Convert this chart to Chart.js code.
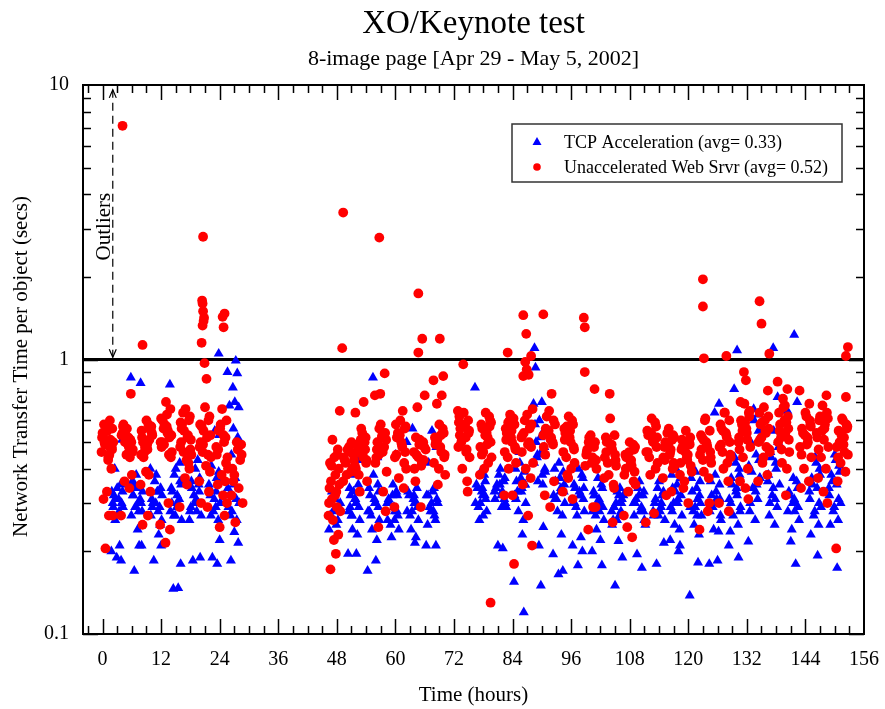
<!DOCTYPE html>
<html><head><meta charset="utf-8">
<script src="https://cdn.jsdelivr.net/npm/chart.js@4.4.0/dist/chart.umd.min.js"></script>
<style>html,body{margin:0;padding:0;background:#fff;}canvas{display:block;}</style>
</head><body>
<canvas id="c" width="885" height="709"></canvas>
<script>
// ---------- data ----------
const xTickLabels = [0,12,24,36,48,60,72,84,96,108,120,132,144,156];
const yTickLabels = [0.1,1,10];
const seriesNames = ['TCP Acceleration (avg= 0.33)','Unaccelerated Web Srvr (avg= 0.52)'];
// time offsets (hours) of the samples inside one measurement burst
const burstOffsets = [0,0.9,-0.7,0.4,-1.1,1.2,-0.3,0.7,-0.9,0.2,1.0,-0.5,0.5,-1.2,0.8,-0.1,0.3,-0.8,1.1,-0.4,0.6,-1.0,0.15,-0.6,0.95,-0.25];

const tcpBurstTimes = [3,7,11,15,19,23,26.8, 47.5,51.5,55.5,59.5,63.5,67.5,77.5,81.5,85.5,89.5,93.5,97.5,101.5,105.5,110,114,117.5,121.5,125.5,129.5,133.5,137.5,141.5,146,150];
const tcpBurstValues = [
 [0.34,0.3,0.32,0.28,0.33,0.29,0.31,0.35,0.3,0.27,0.51,0.4,0.21,0.2,0.185,0.19,0.31,0.29,0.33,0.26],
 [0.34,0.3,0.32,0.28,0.27,0.33,0.29,0.31,0.36,0.24,0.21,0.17,0.21,0.86,0.82,0.38,0.3,0.32,0.28,0.35],
 [0.38,0.34,0.3,0.28,0.27,0.32,0.36,0.29,0.31,0.33,0.21,0.185,0.23,0.4,0.25,0.3,0.33,0.29,0.26],
 [0.4,0.36,0.33,0.3,0.28,0.26,0.38,0.31,0.34,0.29,0.18,0.146,0.147,0.81,0.42,0.27,0.32,0.3,0.35,0.27],
 [0.4,0.37,0.34,0.3,0.28,0.27,0.32,0.35,0.29,0.31,0.19,0.185,0.43,0.26,0.33,0.3,0.28,0.36],
 [0.55,0.53,0.41,0.37,0.34,0.3,0.28,0.26,0.32,0.29,0.22,0.19,0.18,0.35,0.39,0.31,0.33,0.27,0.3],
 [0.56,0.52,0.4,0.37,0.34,0.3,0.28,0.26,0.32,0.235,0.215,0.185,0.99,0.9,0.89,0.79,0.7,0.68,0.67,0.45,0.31,0.29,0.35,0.27],
 [0.32,0.29,0.27,0.25,0.24,0.3,0.28,0.26,0.27,0.31,0.29,0.33],
 [0.38,0.35,0.32,0.3,0.28,0.26,0.24,0.23,0.34,0.31,0.29,0.27,0.196,0.196,0.43,0.33,0.31,0.29,0.33,0.27],
 [0.38,0.35,0.32,0.3,0.28,0.26,0.24,0.22,0.34,0.31,0.29,0.27,0.185,0.17,0.44,0.86,0.3,0.28,0.33],
 [0.35,0.32,0.3,0.28,0.26,0.24,0.225,0.33,0.31,0.29,0.27,0.25,0.45,0.3,0.28,0.32,0.26],
 [0.56,0.34,0.32,0.3,0.28,0.26,0.24,0.225,0.33,0.31,0.29,0.27,0.215,0.5,0.3,0.28,0.32],
 [0.55,0.48,0.42,0.34,0.32,0.3,0.28,0.26,0.25,0.33,0.31,0.29,0.27,0.21,0.21,0.3,0.28,0.32],
 [0.39,0.36,0.34,0.32,0.3,0.28,0.26,0.38,0.35,0.33,0.31,0.29,0.27,0.79,0.32,0.3,0.34],
 [0.4,0.37,0.35,0.33,0.31,0.29,0.38,0.36,0.34,0.32,0.3,0.21,0.205,0.33,0.31,0.35,0.29],
 [0.42,0.39,0.36,0.34,0.32,0.3,0.28,0.26,0.4,0.37,0.35,0.33,0.23,0.155,0.12,0.46,0.33,0.31,0.35],
 [0.6,0.55,0.5,0.46,0.42,0.39,0.36,0.35,0.58,0.52,0.48,0.44,0.7,0.69,0.245,0.21,0.15,0.935,0.4,0.45,0.38],
 [0.42,0.39,0.36,0.34,0.32,0.3,0.28,0.27,0.4,0.37,0.33,0.31,0.23,0.195,0.17,0.165,0.33,0.31,0.35],
 [0.4,0.37,0.34,0.32,0.3,0.28,0.27,0.38,0.35,0.33,0.31,0.29,0.225,0.21,0.2,0.178,0.32,0.3,0.34],
 [0.37,0.34,0.32,0.3,0.28,0.26,0.24,0.35,0.33,0.31,0.29,0.27,0.22,0.2,0.178,0.3,0.28,0.32],
 [0.33,0.31,0.29,0.27,0.25,0.32,0.3,0.28,0.26,0.218,0.19,0.15,0.34,0.28,0.3,0.26,0.32],
 [0.36,0.33,0.31,0.29,0.27,0.25,0.34,0.32,0.3,0.28,0.26,0.195,0.174,0.3,0.28,0.32],
 [0.36,0.33,0.31,0.29,0.27,0.26,0.34,0.32,0.3,0.28,0.215,0.18,0.3,0.28,0.32,0.27],
 [0.4,0.37,0.34,0.31,0.29,0.27,0.25,0.24,0.38,0.35,0.32,0.3,0.2,0.22,0.21,0.33,0.3,0.28],
 [0.39,0.36,0.33,0.31,0.29,0.27,0.25,0.23,0.37,0.34,0.3,0.28,0.182,0.138,0.32,0.29,0.27],
 [0.38,0.35,0.32,0.3,0.28,0.26,0.24,0.236,0.36,0.33,0.31,0.29,0.185,0.18,0.69,0.64,0.31,0.29,0.27],
 [0.44,0.4,0.37,0.34,0.31,0.29,0.27,0.25,0.236,0.42,0.38,0.35,0.32,0.21,0.19,0.78,0.33,0.3,0.28],
 [0.6,0.55,0.5,0.45,0.41,0.37,0.34,0.31,0.28,0.26,0.43,0.39,0.35,0.217,0.63,0.66,0.33,0.3,0.37],
 [0.55,0.5,0.46,0.42,0.38,0.35,0.32,0.29,0.27,0.25,0.48,0.44,0.4,0.36,0.73,0.34,0.31,0.3],
 [0.37,0.34,0.32,0.3,0.28,0.26,0.24,0.36,0.33,0.31,0.29,0.217,0.18,0.65,0.7,0.3,0.28,0.32],
 [0.44,0.4,0.37,0.34,0.31,0.29,0.27,0.25,0.23,0.42,0.38,0.35,0.193,0.33,0.3,0.28],
 [0.45,0.41,0.38,0.35,0.32,0.3,0.28,0.26,0.25,0.43,0.39,0.36,0.174,0.34,0.31,0.29]
];
const tcpOutlierTimes = [23.8,88.5,130,137.4,141.7];
const tcpOutlierValues = [1.05,1.1,1.08,1.1,1.23];

const webBurstTimes = [1,5,9,13,17,21,24.5,27.5, 47.5,50.5,53,57,61,65,69,74,78.5,83.5,87,91.5,95.5,100,104,108,112.5,116,119.5,123.5,127.5,131.5,135.5,139.5,144,147.5,151.5];
const webBurstValues = [
 [0.55,0.48,0.58,0.45,0.52,0.5,0.57,0.47,0.53,0.44,0.56,0.49,0.6,0.46,0.4,0.33,0.27,0.31,0.27,0.205,0.51,0.54,0.43,0.5,0.47],
 [0.56,0.5,0.58,0.48,0.53,0.47,0.55,0.51,0.54,0.49,0.38,0.36,0.34,0.27,0.75,0.45,0.52,0.57,0.46,0.5,0.44],
 [0.6,0.55,0.5,0.58,0.45,0.53,0.48,0.56,0.52,0.47,0.57,0.5,0.38,0.35,0.33,0.39,0.27,0.25,0.54,0.46,0.51,0.55,0.49,0.44],
 [0.7,0.66,0.6,0.55,0.5,0.46,0.58,0.52,0.48,0.63,0.44,0.56,0.3,0.25,0.24,0.215,0.54,0.5,0.53,0.49,0.45,0.61,0.57],
 [0.66,0.62,0.58,0.52,0.48,0.45,0.55,0.6,0.5,0.43,0.47,0.64,0.53,0.29,0.4,0.37,0.35,0.56,0.51,0.46,0.42,0.59],
 [0.67,0.62,0.57,0.52,0.48,0.44,0.55,0.6,0.5,0.41,0.39,0.46,0.29,0.36,0.33,0.97,0.85,0.3,0.53,0.49,0.45,0.58],
 [0.66,0.6,0.55,0.5,0.45,0.4,0.58,0.52,0.35,0.32,0.3,0.245,0.27,0.48,0.42,0.38,0.53,0.47,0.44,0.56,0.36],
 [0.5,0.49,0.36,0.34,0.32,0.3,0.255,0.43,0.4,0.47,0.45,0.38],
 [0.44,0.4,0.36,0.33,0.3,0.28,0.26,0.47,0.42,0.38,0.35,0.31,0.29,0.27,0.23,0.22,0.196,0.172,0.65,0.51,0.45,0.34,0.32,0.41],
 [0.48,0.45,0.42,0.39,0.44,0.41,0.47,0.4,0.43,0.46,0.43,0.38,0.5,0.36],
 [0.56,0.52,0.48,0.44,0.4,0.36,0.33,0.5,0.46,0.54,0.42,0.38,0.7,0.64,0.47,0.51,0.45,0.49,0.43],
 [0.58,0.54,0.5,0.46,0.42,0.39,0.56,0.48,0.44,0.52,0.28,0.245,0.33,0.74,0.89,0.75,0.53,0.47,0.51,0.45],
 [0.6,0.56,0.52,0.48,0.44,0.4,0.37,0.34,0.58,0.5,0.46,0.54,0.65,0.29,0.42,0.53,0.49,0.45,0.57],
 [0.51,0.48,0.45,0.42,0.4,0.47,0.44,0.5,0.36,0.29,0.74,0.67,0.43,0.46,0.43,0.49,0.41,0.52],
 [0.58,0.54,0.5,0.46,0.42,0.38,0.35,0.56,0.52,0.48,0.44,0.69,0.74,0.84,0.87,0.4,0.53,0.49,0.45,0.51],
 [0.64,0.6,0.56,0.52,0.48,0.44,0.4,0.36,0.62,0.58,0.54,0.5,0.46,0.65,0.33,0.96,0.57,0.53,0.55,0.51,0.47,0.59],
 [0.64,0.6,0.56,0.52,0.48,0.44,0.4,0.62,0.58,0.54,0.5,0.46,0.42,0.38,0.57,0.53,0.49,0.45,0.59],
 [0.63,0.58,0.54,0.5,0.46,0.42,0.4,0.61,0.56,0.52,0.48,0.44,0.32,0.32,0.18,0.6,0.55,0.51,0.47,0.59],
 [0.63,0.58,0.54,0.5,0.46,0.42,0.4,0.37,0.35,0.27,0.21,0.6,0.56,0.52,0.48,0.92,0.88,0.87,0.66,0.98,0.57,0.53,0.49],
 [0.65,0.6,0.56,0.52,0.48,0.58,0.54,0.5,0.32,0.29,0.36,0.62,0.75,0.53,0.49,0.55,0.51,0.45],
 [0.62,0.58,0.54,0.5,0.46,0.42,0.38,0.6,0.56,0.52,0.48,0.44,0.4,0.33,0.31,0.37,0.55,0.51,0.47,0.57],
 [0.53,0.5,0.47,0.44,0.41,0.4,0.52,0.48,0.45,0.42,0.29,0.24,0.29,0.9,0.78,0.51,0.49,0.46,0.43,0.5],
 [0.61,0.53,0.5,0.47,0.44,0.41,0.38,0.35,0.52,0.48,0.45,0.42,0.255,0.37,0.34,0.75,0.49,0.46,0.43,0.5],
 [0.5,0.47,0.44,0.41,0.38,0.35,0.33,0.49,0.45,0.42,0.39,0.245,0.225,0.27,0.36,0.46,0.43,0.4,0.48],
 [0.61,0.57,0.53,0.5,0.46,0.42,0.38,0.59,0.55,0.51,0.48,0.44,0.275,0.255,0.4,0.54,0.5,0.46,0.52],
 [0.56,0.53,0.5,0.47,0.44,0.41,0.54,0.51,0.48,0.45,0.42,0.32,0.33,0.37,0.4,0.49,0.46,0.43,0.52],
 [0.55,0.52,0.48,0.45,0.42,0.39,0.36,0.5,0.47,0.44,0.41,0.34,0.3,0.38,0.49,0.46,0.43,0.51],
 [0.61,0.55,0.52,0.48,0.45,0.42,0.39,0.37,0.53,0.5,0.46,0.43,0.28,0.24,0.3,0.6,0.49,0.47,0.44,0.51],
 [0.64,0.6,0.56,0.52,0.48,0.44,0.4,0.36,0.58,0.54,0.5,0.46,0.42,0.3,0.28,0.64,0.53,0.49,0.45,0.55],
 [0.69,0.64,0.6,0.56,0.52,0.48,0.44,0.4,0.36,0.34,0.62,0.58,0.54,0.5,0.31,0.9,0.84,0.7,0.65,0.55,0.51,0.47,0.59],
 [0.67,0.62,0.58,0.54,0.5,0.46,0.42,0.38,0.64,0.6,0.56,0.52,0.48,0.36,0.77,0.44,0.55,0.51,0.47,0.59],
 [0.67,0.62,0.58,0.54,0.5,0.46,0.42,0.4,0.64,0.6,0.56,0.52,0.32,0.83,0.78,0.72,0.68,0.55,0.51,0.47,0.59],
 [0.64,0.6,0.56,0.52,0.48,0.44,0.4,0.36,0.34,0.62,0.58,0.54,0.5,0.77,0.69,0.53,0.49,0.45,0.57],
 [0.68,0.64,0.6,0.56,0.52,0.48,0.44,0.4,0.37,0.33,0.3,0.62,0.58,0.54,0.74,0.55,0.51,0.47,0.61],
 [0.61,0.58,0.55,0.52,0.48,0.45,0.42,0.39,0.36,0.6,0.56,0.5,0.46,0.205,0.73,0.53,0.49,0.44,0.57]
];
const webOutlierTimes = [4.1,8.2,20.6,20.4,20.5,20.6,20.8,20.7,20.5,20.3,25.0,24.6,24.8,
  49.3,56.7,49.1,64.7,65.5,69.1,64.7,83,86.2,90.3,86.8,87.8,98.6,98.8,79.5,123,123,123.2,127.8,134.6,135,136.6,152.7,152.3];
const webOutlierValues = [7.1,1.13,2.8,1.64,1.6,1.5,1.42,1.38,1.33,1.15,1.47,1.43,1.31,
  3.43,2.78,1.1,1.74,1.19,1.19,1.06,1.06,1.45,1.46,1.24,1.03,1.42,1.31,0.13,1.96,1.56,1.01,1.03,1.63,1.35,1.05,1.11,1.03];

// ---------- build points ----------
function buildPoints(times, values, outT, outV) {
  const pts = [];
  times.forEach((t, i) => values[i].forEach((v, j) => pts.push({x: t + burstOffsets[j % burstOffsets.length], y: v})));
  outT.forEach((t, i) => pts.push({x: t, y: outV[i]}));
  return pts;
}

const FONT = "'Liberation Serif','Times New Roman',serif";

const deco = {
  id: 'deco',
  beforeDatasetsDraw(chart) {
    const ctx = chart.ctx, a = chart.chartArea, ys = chart.scales.y;
    const py = ys.getPixelForValue(1);
    ctx.save();
    ctx.strokeStyle = '#000'; ctx.lineWidth = 3;
    ctx.beginPath(); ctx.moveTo(a.left, py); ctx.lineTo(a.right, py); ctx.stroke();
    ctx.restore();
  },
  afterDraw(chart) {
    const ctx = chart.ctx, a = chart.chartArea, xs = chart.scales.x, ys = chart.scales.y;
    ctx.save();
    // frame
    ctx.strokeStyle = '#000'; ctx.lineWidth = 2;
    ctx.strokeRect(a.left, a.top, a.right - a.left, a.bottom - a.top);
    // x ticks (inward, top & bottom)
    ctx.lineWidth = 1.5;
    ctx.beginPath();
    for (let v = -3; v <= 156; v += 3) {
      const px = Math.round(xs.getPixelForValue(v)) + 0.5;
      if (px < a.left + 1 || px > a.right - 1) continue;
      const len = v % 12 === 0 ? 15 : 8;
      ctx.moveTo(px, a.bottom); ctx.lineTo(px, a.bottom - len);
      ctx.moveTo(px, a.top); ctx.lineTo(px, a.top + len);
    }
    // y ticks (log)
    for (const e of [-1, 0]) {
      for (let k = 1; k <= 9; k++) {
        const v = k * Math.pow(10, e);
        const py = Math.round(ys.getPixelForValue(v)) + 0.5;
        const len = k === 1 ? 15 : 8;
        ctx.moveTo(a.left, py); ctx.lineTo(a.left + len, py);
        ctx.moveTo(a.right, py); ctx.lineTo(a.right - len, py);
      }
    }
    ctx.stroke();

    // Outliers annotation
    const ax = xs.getPixelForValue(2.1);
    const yTop = ys.getPixelForValue(9.6), yBot = ys.getPixelForValue(1.02);
    ctx.lineWidth = 1.2;
    ctx.setLineDash([8, 5]);
    ctx.beginPath(); ctx.moveTo(ax, yTop); ctx.lineTo(ax, yBot); ctx.stroke();
    ctx.setLineDash([]);
    ctx.beginPath();
    ctx.moveTo(ax - 3.5, yTop + 8); ctx.lineTo(ax, yTop); ctx.lineTo(ax + 3.5, yTop + 8);
    ctx.moveTo(ax - 3.5, yBot - 8); ctx.lineTo(ax, yBot); ctx.lineTo(ax + 3.5, yBot - 8);
    ctx.stroke();
    ctx.fillStyle = '#000';
    ctx.save();
    ctx.translate(ax - 3, ys.getPixelForValue(3.05));
    ctx.rotate(-Math.PI / 2);
    ctx.font = '21px ' + FONT; ctx.textAlign = 'center'; ctx.textBaseline = 'alphabetic';
    ctx.fillText('Outliers', 0, 0);
    ctx.restore();

    // titles
    const cx = (a.left + a.right) / 2;
    ctx.textAlign = 'center'; ctx.textBaseline = 'alphabetic';
    ctx.font = '33px ' + FONT; ctx.fillText('XO/Keynote test', cx, 33);
    ctx.font = '22px ' + FONT; ctx.fillText('8-image page [Apr 29 - May 5, 2002]', cx, 65);
    ctx.font = '21px ' + FONT; ctx.fillText('Time (hours)', cx, 701);
    ctx.save();
    ctx.translate(27, (a.top + a.bottom) / 2 + 7);
    ctx.rotate(-Math.PI / 2);
    ctx.fillText('Network Transfer Time per object (secs)', 0, 0);
    ctx.restore();

    // legend
    const lx = a.right - 352, ly = a.top + 39, lw = 330, lh = 58;
    ctx.fillStyle = '#fff'; ctx.fillRect(lx, ly, lw, lh);
    ctx.strokeStyle = '#333'; ctx.lineWidth = 1.5; ctx.strokeRect(lx, ly, lw, lh);
    const mx = lx + 25, r1 = ly + 18, r2 = ly + 43;
    ctx.fillStyle = '#0000ff';
    ctx.beginPath(); ctx.moveTo(mx, r1 - 5); ctx.lineTo(mx + 4.5, r1 + 3); ctx.lineTo(mx - 4.5, r1 + 3); ctx.closePath(); ctx.fill();
    ctx.fillStyle = '#ff0000';
    ctx.beginPath(); ctx.arc(mx, r2, 3.8, 0, Math.PI * 2); ctx.fill();
    ctx.fillStyle = '#000'; ctx.font = '18px ' + FONT; ctx.textAlign = 'left'; ctx.textBaseline = 'middle';
    ctx.fillText(seriesNames[0], lx + 52, r1 + 1);
    ctx.fillText(seriesNames[1], lx + 52, r2 + 1);
    ctx.restore();
  }
};

new Chart(document.getElementById('c'), {
  type: 'scatter',
  data: {
    datasets: [
      { label: seriesNames[0], data: buildPoints(tcpBurstTimes, tcpBurstValues, tcpOutlierTimes, tcpOutlierValues),
        pointStyle: 'triangle', radius: 5.8, backgroundColor: '#0000ff', borderColor: '#0000ff', borderWidth: 0, order: 1 },
      { label: seriesNames[1], data: buildPoints(webBurstTimes, webBurstValues, webOutlierTimes, webOutlierValues),
        pointStyle: 'circle', radius: 4.9, backgroundColor: '#ff0000', borderColor: '#ff0000', borderWidth: 0, order: 0 }
    ]
  },
  options: {
    responsive: false, animation: false, devicePixelRatio: 1,
    layout: { padding: { top: 85, right: 20, left: 0, bottom: 0 } },
    plugins: { legend: { display: false }, tooltip: { enabled: false }, title: { display: false } },
    scales: {
      x: {
        type: 'linear', min: -4, max: 156,
        grid: { display: false }, border: { display: false },
        afterBuildTicks: s => { s.ticks = xTickLabels.map(v => ({ value: v })); },
        afterFit: s => { s.height = 75; },
        ticks: { color: '#000', font: { family: FONT, size: 20 }, padding: 6, maxRotation: 0, autoSkip: false }
      },
      y: {
        type: 'logarithmic', min: 0.1, max: 10,
        grid: { display: false }, border: { display: false },
        afterBuildTicks: s => { s.ticks = yTickLabels.map(v => ({ value: v })); },
        afterFit: s => { s.width = 83; },
        ticks: { color: '#000', font: { family: FONT, size: 20 }, padding: 6, callback: v => String(v) }
      }
    }
  },
  plugins: [deco]
});
</script>
</body></html>
